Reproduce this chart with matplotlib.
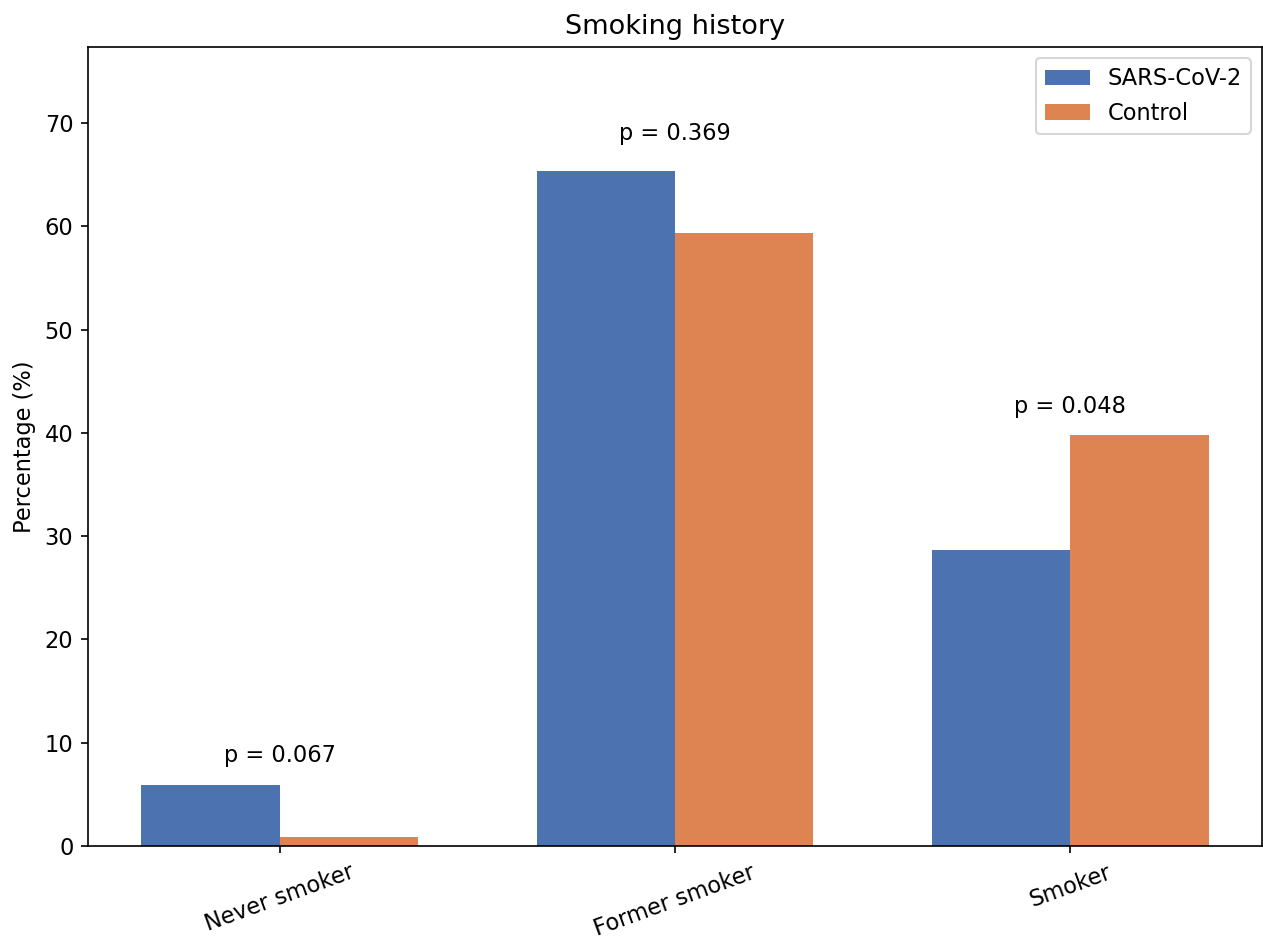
import numpy as np
import matplotlib
matplotlib.use("Agg")
import matplotlib.pyplot as plt

categories = ["Never smoker", "Former smoker", "Smoker"]
sars_cov2 = [5.9, 65.3, 28.7]
control = [0.9, 59.3, 39.8]
p_values = ["0.067", "0.369", "0.048"]
p_label_y = [7.6, 67.9, 41.4]

blue = "#4C72B0"
orange = "#DD8452"

plt.rcParams["font.size"] = 10.8

fig = plt.figure(figsize=(1263 / 150, 938 / 150), dpi=150)
ax = fig.add_axes([88 / 1263, 1 - 846 / 938, (1262 - 88) / 1263, (846 - 47) / 938])

x = np.arange(len(categories))
width = 0.35
ax.bar(x - width / 2, sars_cov2, width, color=blue, label="SARS-CoV-2")
ax.bar(x + width / 2, control, width, color=orange, label="Control")

for xi, p, y in zip(x, p_values, p_label_y):
    ax.text(xi, y, f"p = {p}", ha="center", va="bottom", fontsize=10.8)

ax.set_xticks(x)
ax.set_xticklabels(categories, rotation=20)
ax.tick_params(labelsize=10.8)
ax.set_ylim(0, 77.35)
ax.set_ylabel("Percentage (%)", fontsize=10.8)
ax.set_title("Smoking history", fontsize=13)
ax.legend(loc="upper right", fontsize=10.8)

fig.savefig("out.png", dpi=150)
